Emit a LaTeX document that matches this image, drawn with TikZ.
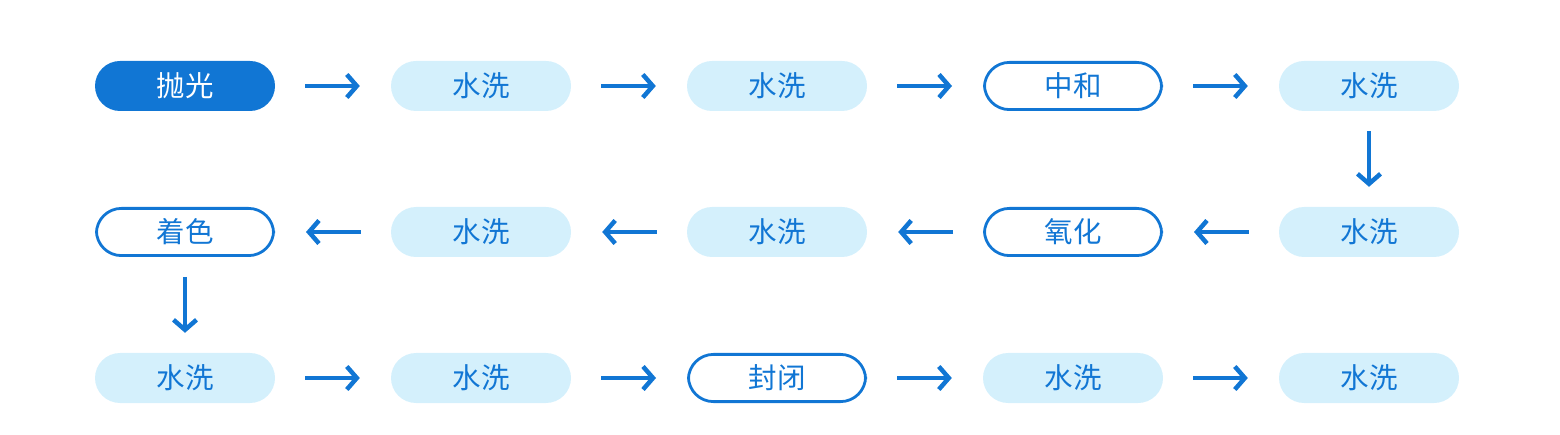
\documentclass[tikz,border=0pt]{standalone}
\usepackage{fontspec}
\newfontfamily\cjk{Noto Sans CJK SC}
\usetikzlibrary{arrows.meta, positioning}
\definecolor{procblue}{HTML}{1176D4}
\definecolor{washblue}{HTML}{D4F0FC}
\tikzset{
  stage/.style={minimum width=180pt, minimum height=50pt, rounded corners=25pt,
    inner sep=0pt, font=\cjk\fontsize{28.5pt}{32pt}\selectfont, text=procblue},
  wash/.style={stage, fill=washblue},
  key/.style={stage, draw=procblue, line width=2.8pt, minimum width=177.2pt, minimum height=47.2pt},
  start/.style={stage, fill=procblue, text=white},
  flow/.style={draw=procblue, line width=4.5pt, -{Straight Barb[length=10pt, width=23pt, line width=4.5pt]}},
  hflow/.style={flow, shorten <=30pt, shorten >=31pt},
  vflow/.style={flow, shorten <=20pt, shorten >=20pt}
}
\begin{document}
\begin{tikzpicture}[node distance=146pt and 296pt, on grid]
\useasboundingbox (0,0) rectangle (1560pt,-435pt);

% row 1
\node (polish) [start] at (185pt,-86pt) {抛光};
\node (wash1) [wash, right=of polish] {水洗};
\node (wash2) [wash, right=of wash1] {水洗};
\node (neutral) [key, right=of wash2] {中和};
\node (wash3) [wash, right=of neutral] {水洗};

% row 2
\node (wash4) [wash, below=of wash3] {水洗};
\node (oxide) [key, left=of wash4] {氧化};
\node (wash5) [wash, left=of oxide] {水洗};
\node (wash6) [wash, left=of wash5] {水洗};
\node (dye) [key, left=of wash6] {着色};

% row 3
\node (wash7) [wash, below=of dye] {水洗};
\node (wash8) [wash, right=of wash7] {水洗};
\node (seal) [key, right=of wash8] {封闭};
\node (wash9) [wash, right=of seal] {水洗};
\node (wash10) [wash, right=of wash9] {水洗};

% arrows
\draw[hflow] (polish) -- (wash1);
\draw[hflow] (wash1) -- (wash2);
\draw[hflow] (wash2) -- (neutral);
\draw[hflow] (neutral) -- (wash3);
\draw[vflow] (wash3) -- (wash4);
\draw[hflow] (wash4) -- (oxide);
\draw[hflow] (oxide) -- (wash5);
\draw[hflow] (wash5) -- (wash6);
\draw[hflow] (wash6) -- (dye);
\draw[vflow] (dye) -- (wash7);
\draw[hflow] (wash7) -- (wash8);
\draw[hflow] (wash8) -- (seal);
\draw[hflow] (seal) -- (wash9);
\draw[hflow] (wash9) -- (wash10);

\end{tikzpicture}
\end{document}
